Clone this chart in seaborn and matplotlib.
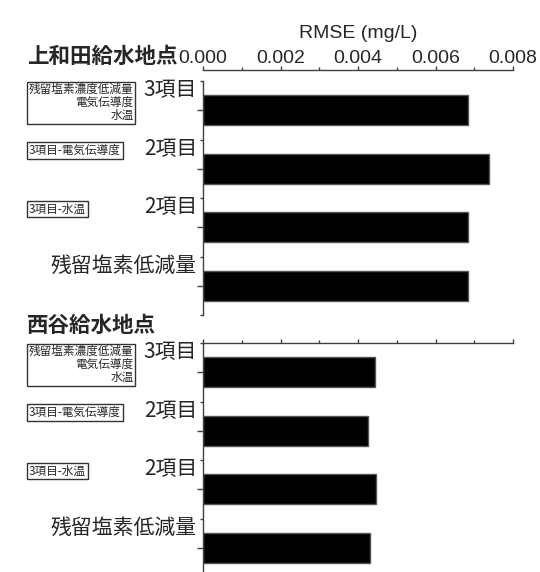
import pandas as pd
import matplotlib.pyplot as plt
import seaborn as sns
from matplotlib.ticker import MultipleLocator, FixedLocator
from matplotlib.transforms import blended_transform_factory

# data
sites = ["上和田給水地点", "西谷給水地点"]
combo_keys = ["3項目", "3項目-電気伝導度", "3項目-水温", "残留塩素低減量"]
item_labels = ["3項目", "2項目", "2項目", "残留塩素低減量"]
box_labels = ["残留塩素濃度低減量\n電気伝導度\n水温", "3項目-電気伝導度", "3項目-水温", ""]
rmse_kamiwada = [0.00685, 0.00737, 0.00685, 0.00685]
rmse_nishiya = [0.00443, 0.00425, 0.00446, 0.00432]
x_ticks = [0.000, 0.002, 0.004, 0.006, 0.008]

sns.set_theme(style="white")
plt.rcParams['font.family'] = ['Noto Sans CJK JP', 'DejaVu Sans']

W, H = 540, 572
fig = plt.figure(figsize=(W / 100, H / 100), dpi=100)
ax_top = fig.add_axes([203 / W, 1 - 315 / H, 310 / W, 234 / H])
ax_bot = fig.add_axes([203 / W, 1 - 577 / H, 310 / W, 234 / H])

spine_col = '#404040'

for ax, site, values, head_y, show_labels in [
        (ax_top, sites[0], rmse_kamiwada, 56, True),
        (ax_bot, sites[1], rmse_nishiya, 325, False)]:
    df = pd.DataFrame({'combo': combo_keys, 'rmse': values})
    sns.barplot(data=df, x='rmse', y='combo', orient='h', color='black',
                edgecolor='#555555', linewidth=1, width=0.51, ax=ax,
                saturation=1)
    ax.set_xlim(0, 0.008)
    ax.set_ylim(3.5, -0.5)

    # axes styling: left + top only
    ax.xaxis.tick_top()
    ax.xaxis.set_label_position('top')
    for s in ['right', 'bottom']:
        ax.spines[s].set_visible(False)
    for s in ['left', 'top']:
        ax.spines[s].set_color(spine_col)
        ax.spines[s].set_linewidth(1)
    if show_labels:
        ax.spines['top'].set_position(('outward', 8))

    ax.set_xticks(x_ticks)
    ax.xaxis.set_minor_locator(MultipleLocator(0.001))
    ax.tick_params(axis='x', which='major', direction='out', length=3, width=1,
                   color=spine_col, pad=-1, labelsize=14, top=True, bottom=False,
                   labeltop=show_labels, labelbottom=False)
    ax.tick_params(axis='x', which='minor', direction='out', length=2, width=1,
                   color=spine_col, top=True, bottom=False)
    if show_labels:
        ax.set_xticklabels([f"{t:.3f}" for t in x_ticks])
        for lab in ax.get_xticklabels():
            lab.set_fontfamily('Liberation Sans')
        ax.set_xlabel("RMSE (mg/L)", fontsize=14, fontfamily='Liberation Sans',
                      labelpad=9)
    else:
        ax.set_xlabel("")

    ax.set_yticks(range(len(combo_keys)))
    ax.set_yticklabels([])
    ax.yaxis.set_minor_locator(FixedLocator([i - 0.5 for i in range(len(combo_keys) + 1)]))
    ax.tick_params(axis='y', which='major', direction='out', length=4, width=1,
                   color=spine_col, left=True)
    ax.tick_params(axis='y', which='minor', direction='out', length=2, width=1,
                   color=spine_col, left=True)
    ax.set_ylabel("")

    # category labels sit at the top of each band
    trans = blended_transform_factory(fig.transFigure, ax.transData)
    for i, (item, box) in enumerate(zip(item_labels, box_labels)):
        ax.text(197 / W, i - 0.5 + 0.16, item, transform=trans, fontsize=15,
                ha='right', va='center')
        if box:
            if "\n" in box:
                ax.text(29 / W, i - 0.5 + 0.04, box, transform=trans, fontsize=8.4,
                        ha='left', va='top', multialignment='right', linespacing=1.0,
                        bbox=dict(boxstyle='square,pad=0.15', fc='white',
                                  ec='#333333', lw=1))
            else:
                ax.text(29 / W, i - 0.5 + 0.19, box, transform=trans, fontsize=8.4,
                        ha='left', va='center',
                        bbox=dict(boxstyle='square,pad=0.15', fc='white',
                                  ec='#333333', lw=1))

    fig.text(27 / W, 1 - head_y / H, site, fontsize=15.5, fontweight='bold',
             ha='left', va='center')

fig.savefig('out.png', dpi=100)
